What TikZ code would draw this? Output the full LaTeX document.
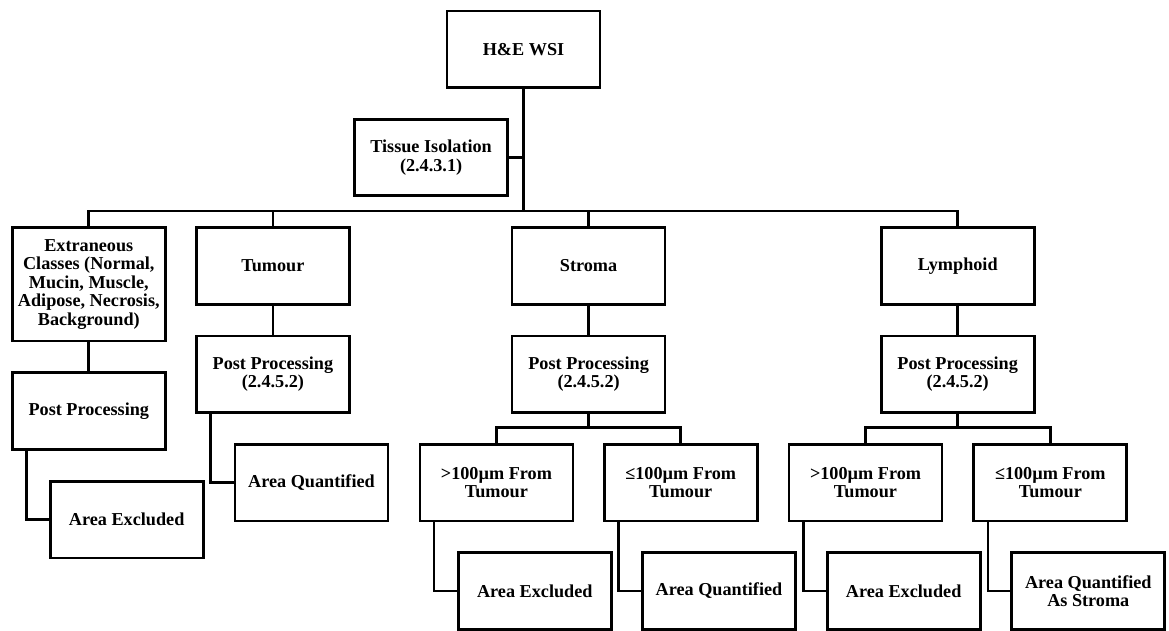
\documentclass[tikz,border=0pt]{standalone}
\usepackage{fontspec}
\setmainfont{Liberation Serif}
\begin{document}
\begin{tikzpicture}[x=1pt,y=-1pt,
  box/.style={draw=black, line width=2.7pt, minimum width=153pt, minimum height=76.5pt,
    inner sep=2pt, align=center, font=\bfseries\fontsize{18.2}{18.6}\selectfont},
  link/.style={draw=black, line width=2.7pt}]
\fill[white] (0,0) rectangle (1169,630);
\useasboundingbox (0,0) rectangle (1169,630);
% level 0-1
\node[box] (hne) at (523.5,49.2) {H\&E WSI};
\node[box] (tiss) at (431.1,157.4) {Tissue Isolation\\(2.4.3.1)};
% level 2
\node[box, minimum height=113.3pt] (ext) at (88.8,284.3) {Extraneous\\Classes (Normal,\\Mucin, Muscle,\\Adipose, Necrosis,\\Background)};
\node[box] (tum) at (272.9,266) {Tumour};
\node[box] (str) at (588.6,266) {Stroma};
\node[box] (lym) at (957.7,266) {Lymphoid};
% post processing
\node[box] (extpp) at (88.8,411) {Post Processing};
\node[box] (tumpp) at (272.9,374.3) {Post Processing\\(2.4.5.2)};
\node[box] (strpp) at (588.6,374.3) {Post Processing\\(2.4.5.2)};
\node[box] (lympp) at (957.7,374.3) {Post Processing\\(2.4.5.2)};
% distance classes
\node[box] (s1) at (496.4,482.7) {>100µm From\\Tumour};
\node[box] (s2) at (680.7,482.7) {≤100µm From\\Tumour};
\node[box] (l1) at (865.5,482.7) {>100µm From\\Tumour};
\node[box] (l2) at (1050.3,482.7) {≤100µm From\\Tumour};
% results
\node[box] (extae) at (126.7,519.7) {Area Excluded};
\node[box] (tumaq) at (311.5,482.7) {Area Quantified};
\node[box] (s1ae) at (534.8,591) {Area Excluded};
\node[box] (s2aq) at (719,591) {Area Quantified};
\node[box] (l1ae) at (903.7,591) {Area Excluded};
\node[box] (l2aq) at (1088.3,591) {Area Quantified\\As Stroma};
% junction levels
\coordinate (bar) at (0,211);
\coordinate (sbar) at (0,427.7);
% trunk
\draw[link] (hne.south) -- (hne.south |- bar);
\draw[link] (tiss.east) -- (tiss.east -| hne.south);
\draw[link] (ext.north) |- (lym.north |- bar) -- (lym.north);
\draw[link] (tum.north) -- (tum.north |- bar);
\draw[link] (str.north) -- (str.north |- bar);
% verticals to post processing
\draw[link] (ext.south) -- (extpp.north);
\draw[link] (tum.south) -- (tumpp.north);
\draw[link] (str.south) -- (strpp.north);
\draw[link] (lym.south) -- (lympp.north);
% sub bars
\draw[link] (strpp.south) -- (strpp.south |- sbar);
\draw[link] (s1.north) |- (s2.north |- sbar) -- (s2.north);
\draw[link] (lympp.south) -- (lympp.south |- sbar);
\draw[link] (l1.north) |- (l2.north |- sbar) -- (l2.north);
% elbow connectors
\draw[link] ([xshift=15.5pt]extpp.south west) |- (extae.west);
\draw[link] ([xshift=15.5pt]tumpp.south west) |- (tumaq.west);
\draw[link] ([xshift=15.5pt]s1.south west) |- (s1ae.west);
\draw[link] ([xshift=15.5pt]s2.south west) |- (s2aq.west);
\draw[link] ([xshift=15.5pt]l1.south west) |- (l1ae.west);
\draw[link] ([xshift=15.5pt]l2.south west) |- (l2aq.west);
\end{tikzpicture}
\end{document}
